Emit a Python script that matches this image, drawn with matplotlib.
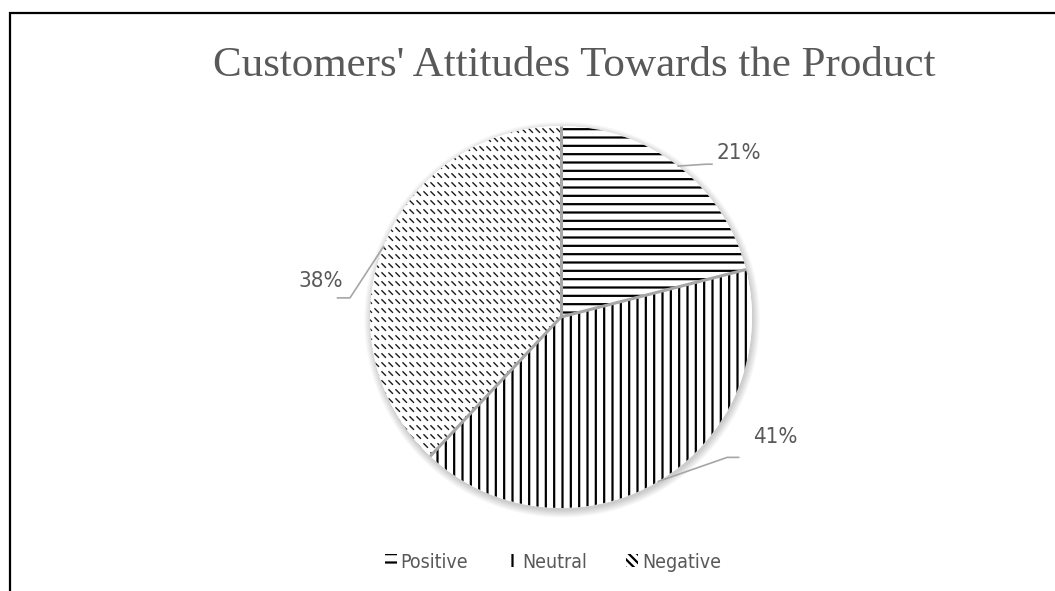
import numpy as np
import matplotlib
matplotlib.use("Agg")
import matplotlib.pyplot as plt
from matplotlib.patches import Patch, Circle, Rectangle
from matplotlib.collections import LineCollection

# chart data
categories = ["Positive", "Neutral", "Negative"]
shares = [21, 41, 38]
hatches = ["--", "||", None]
title = "Customers' Attitudes Towards the Product"

TEXT_GRAY = "#595959"
LINE_GRAY = "#A6A6A6"
PX = 1 / 191.0  # one pixel in data units (pie radius is 191 px)

plt.rcParams["hatch.linewidth"] = 1.6

fig = plt.figure(figsize=(10.55, 5.91), dpi=100)
ax = fig.add_axes([0, 0, 1, 1])

# outer frame, open at right and bottom like the screenshot
fig.patches.append(Rectangle((9.5 / 1055, -0.05), 1.2, 1 - 12.5 / 591 + 0.05,
                             transform=fig.transFigure, fill=False,
                             edgecolor="black", lw=1.6, zorder=0))

# soft shadow under the pie, a little to the lower right
for k in range(10):
    ax.add_patch(Circle((0.006, -0.014), 1.0 + k * 0.004, color="black",
                        alpha=0.018, lw=0, zorder=1))
ax.add_patch(Circle((0, 0), 1.0, color="white", lw=0, zorder=1.5))

wedges, _ = ax.pie(shares, startangle=90, counterclock=False, radius=1,
                   wedgeprops=dict(facecolor="white", edgecolor="black", lw=0))
for w, h in zip(wedges, hatches):
    w.set_zorder(2)
    if h:
        w.set_hatch(h)

ax.set_aspect("auto")
ax.set_xlim(-561 * PX, (1055 - 561) * PX)
ax.set_ylim(-(591 - 317) * PX, 317 * PX)
ax.axis("off")

# dashed diagonal texture for the "Negative" slice
neg = wedges[2]
segs = []
row_step, col_step, dash = 9 * PX, 7 * PX, 4.5 * PX
for y in np.arange(-1.05, 1.05, row_step):
    for x in np.arange(-1.05, 1.05, col_step):
        segs.append([(x, y + dash / 2), (x + dash, y - dash / 2)])
lc = LineCollection(segs, colors="#1a1a1a", linewidths=1.0, zorder=2.5)
ax.add_collection(lc)
lc.set_clip_path(neg)

# gray separators between slices
bounds = 90 - 360 * np.cumsum([0] + shares[:-1]) / sum(shares)
for a in bounds:
    t = np.deg2rad(a)
    ax.plot([0, np.cos(t)], [0, np.sin(t)], color=LINE_GRAY, lw=2.2,
            solid_capstyle="butt", zorder=3)

# percentage labels with leader lines
mids = 90 - 360 * (np.cumsum(shares) - np.array(shares) / 2) / sum(shares)
label_pos = [(0.93, 0.86), (1.12, -0.63), (-1.26, 0.19)]
knees = [[(0.76, 0.80), (0.79, 0.80)],
         [(0.87, -0.735), (0.93, -0.735)],
         [(-1.105, 0.10), (-1.17, 0.10)]]
for m, s, (lx, ly), kn in zip(mids, shares, label_pos, knees):
    t = np.deg2rad(m)
    xs = [np.cos(t)] + [p[0] for p in kn]
    ys = [np.sin(t)] + [p[1] for p in kn]
    ax.plot(xs, ys, color=LINE_GRAY, lw=1.2, zorder=3)
    ax.text(lx, ly, f"{s}%", ha="center", va="center", fontsize=16,
            color=TEXT_GRAY, family="DejaVu Sans", fontstretch="condensed",
            fontweight="light")

fig.text(574 / 1055, 1 - 66 / 591, title, ha="center", va="center",
         fontsize=31, color=TEXT_GRAY, family=["Liberation Serif", "DejaVu Serif"])

handles = [Patch(facecolor="white", edgecolor="black", hatch=h if h else "\\\\\\\\",
                 lw=0) for h in hatches]
fig.legend(handles, categories, loc="center", ncol=3,
           bbox_to_anchor=(553 / 1055, 1 - 562 / 591), frameon=False,
           handlelength=0.6, handleheight=0.6, handletextpad=0.2,
           columnspacing=2.0, labelcolor=TEXT_GRAY,
           prop=dict(family="DejaVu Sans", stretch="condensed", size=14))

fig.savefig("out.png", dpi=100)
